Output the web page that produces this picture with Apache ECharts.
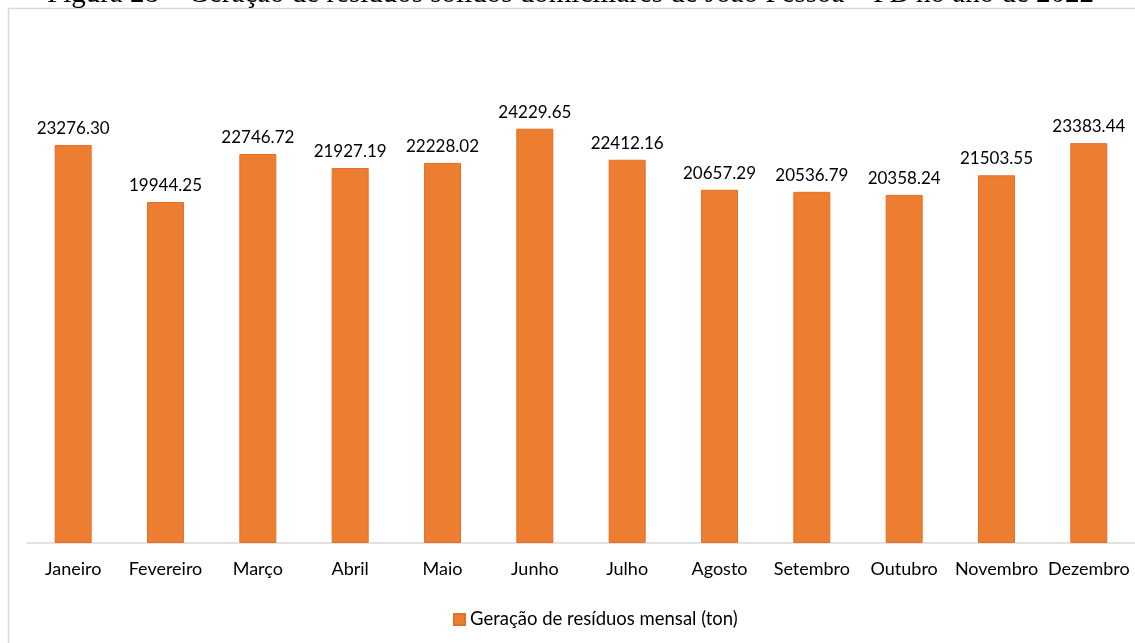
<!DOCTYPE html>
<html><head><meta charset="utf-8">
<script src="https://cdn.jsdelivr.net/npm/echarts@6/dist/echarts.min.js"></script>
<style>html,body{margin:0;padding:0;background:#fff}#c{width:1135px;height:643px}</style>
</head><body><div id="c"></div>
<script>
const titleText = 'Figura 28 – Geração de resíduos sólidos domiciliares de João Pessoa – PB no ano de 2022';
const categories = ['Janeiro','Fevereiro','Março','Abril','Maio','Junho','Julho','Agosto','Setembro','Outubro','Novembro','Dezembro'];
const values = [23276.30,19944.25,22746.72,21927.19,22228.02,24229.65,22412.16,20657.29,20536.79,20358.24,21503.55,23383.44];
const seriesName = 'Geração de resíduos mensal (ton)';

const chart = echarts.init(document.getElementById('c'));
const font = 'Lato, "Noto Sans", sans-serif';
chart.setOption({
  animation: false,
  graphic: [
    {type:'rect', shape:{x:8.5,y:8.5,width:1200,height:700}, style:{fill:'none',stroke:'#d9d9d9',lineWidth:1.5}, z:-1},
    {type:'text', x:47, y:-6, style:{text:titleText, font:'29px "Liberation Serif", serif', fill:'#000', verticalAlign:'middle', align:'left'}}
  ],
  legend: {
    bottom: 9, left: 448, itemWidth: 11, itemHeight: 11, itemGap: 5,
    icon: 'rect',
    textStyle: {fontFamily: font, fontSize: 18.5, color: '#000'},
    data: [seriesName]
  },
  grid: {left: 27, top: 30, width: 1113, height: 513, containLabel: false},
  xAxis: {
    type: 'category', data: categories,
    axisLine: {lineStyle: {color: '#d9d9d9', width: 1.5}},
    axisTick: {show: false},
    axisLabel: {fontFamily: font, fontSize: 18, color: '#000', margin: 17, interval: 0}
  },
  yAxis: {type: 'value', min: 0, max: 30000, show: false, splitLine: {show: false}},
  series: [{
    name: seriesName, type: 'bar', data: values, barWidth: 37,
    itemStyle: {color: '#ed7d31', borderColor: '#e0702a', borderWidth: 1},
    label: {show: true, position: 'top', distance: 8, fontFamily: font, fontSize: 17, color: '#000',
      formatter: p => p.value.toFixed(2)}
  }]
});
</script></body></html>
